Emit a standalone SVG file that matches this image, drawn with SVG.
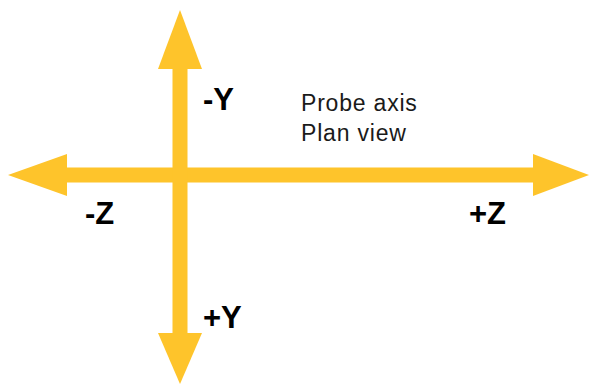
<svg xmlns="http://www.w3.org/2000/svg" width="589" height="385" viewBox="0 0 589 385">
<style>
.ax{fill:#FEC42B;stroke:none}
.lbl{font-family:"Liberation Sans",Arial,sans-serif;font-weight:bold;font-size:31px;fill:#000}
.txt{font-family:"Liberation Sans",Arial,sans-serif;font-size:23px;letter-spacing:0.8px;fill:#1a1a1a}
</style>
<rect width="589" height="385" fill="#fff"/>
<g id="connectors">
<g id="z-axis">
<rect class="ax" x="66" y="167.5" width="468" height="15"/>
<polygon class="ax" points="8,175 67,154 67,196"/>
<polygon class="ax" points="589,175 533,154 533,196"/>
</g>
<g id="y-axis">
<rect class="ax" x="172.5" y="68" width="15" height="266"/>
<polygon class="ax" points="180,10 158,69 202,69"/>
<polygon class="ax" points="180,384 158,333 202,333"/>
</g>
</g>
<g id="label-neg-y"><text class="lbl" x="203" y="110">-Y</text></g>
<g id="label-pos-y"><text class="lbl" x="203" y="328">+Y</text></g>
<g id="label-neg-z"><text class="lbl" x="85" y="224">-Z</text></g>
<g id="label-pos-z"><text class="lbl" x="469" y="224">+Z</text></g>
<g id="caption">
<text class="txt" x="301" y="111">Probe axis</text>
<text class="txt" x="301" y="141">Plan view</text>
</g>
</svg>
